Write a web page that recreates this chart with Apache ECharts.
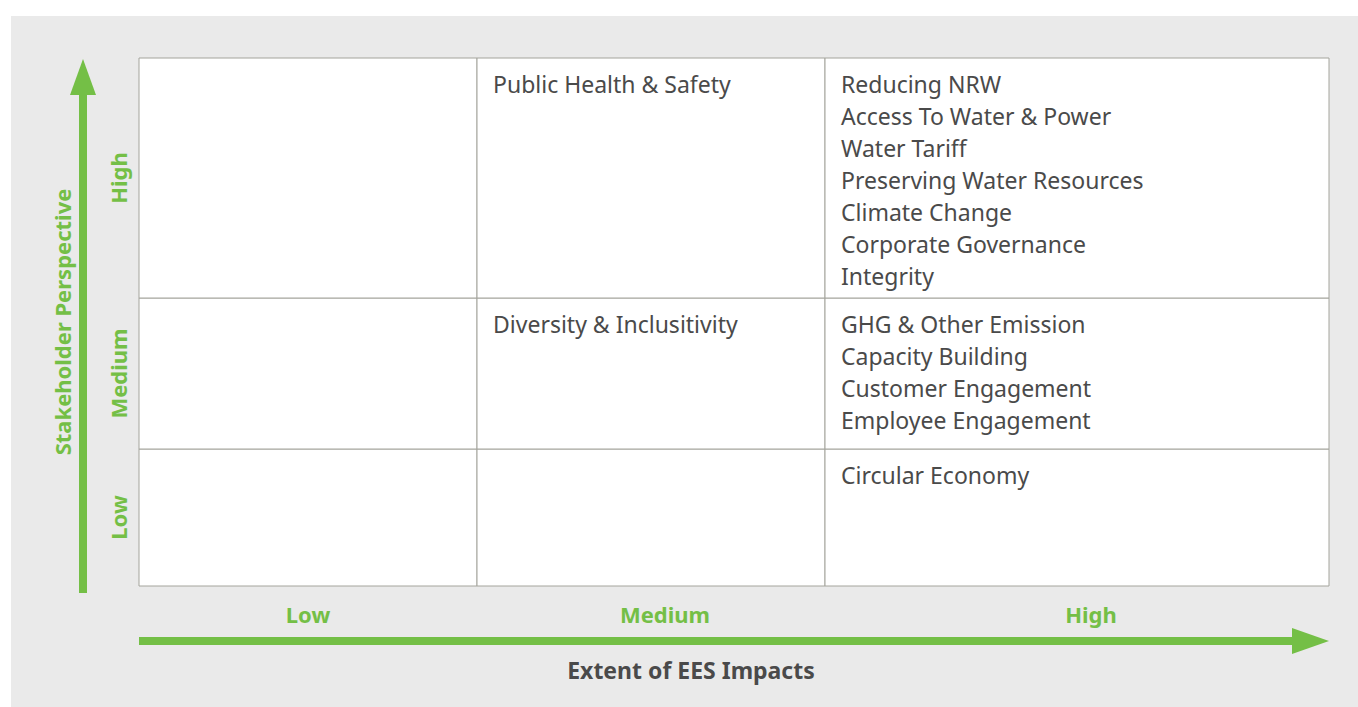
<!DOCTYPE html>
<html>
<head>
	<meta charset="utf-8">
	<title>Materiality Matrix</title>
	<script src="https://cdn.jsdelivr.net/npm/echarts@6/dist/echarts.min.js"></script>
</head>
<style type="text/css">
html, body {
	margin: 0;
	background: #ffffff;
}
#matrix {
	position: absolute;
	left: 11px;
	top: 16px;
	width: 1347px;
	height: 691px;
}
</style>
<body>
	<div id="matrix"></div>
</body>

<script type="text/javascript">
	// levels on both axes
	var xLevels = ['Low', 'Medium', 'High'];
	var yLevels = ['Low', 'Medium', 'High'];

	// topics in each cell (column = EES impact, row = stakeholder)
	var medHigh = ['Public Health & Safety'];
	var highHigh = ['Reducing NRW', 'Access To Water & Power', 'Water Tariff',
		'Preserving Water Resources', 'Climate Change', 'Corporate Governance', 'Integrity'];
	var medMed = ['Diversity & Inclusitivity'];
	var highMed = ['GHG & Other Emission', 'Capacity Building', 'Customer Engagement', 'Employee Engagement'];
	var highLow = ['Circular Economy'];

	// cell list: [column, row, topics]
	var cells = [
		[0, 0, []], [1, 0, []], [2, 0, highLow],
		[0, 1, []], [1, 1, medMed], [2, 1, highMed],
		[0, 2, []], [1, 2, medHigh], [2, 2, highHigh]
	];

	// layout: cell edges in axis units (columns and rows are not equal)
	var xEdges = [0, 338, 686, 1190];
	var yEdges = [0, 137, 288, 528];
	var xLabelAt = [169, 526, 952];
	var yLabelAt = [68.5, 212.5, 408];

	var green = '#74bf46';
	var ink = '#4a4a4a';
	var font = 'Noto Sans';

	var Chart = echarts.init(document.getElementById('matrix'), null, {renderer: 'svg'});

	var option = {
		backgroundColor: '#eaeaea',
		animation: false,
		grid: {
			left: 128,
			top: 42,
			width: 1190,
			height: 528
		},
		xAxis: {
			type: 'value',
			min: 0,
			max: xEdges[3],
			name: 'Extent of EES Impacts',
			nameLocation: 'middle',
			nameGap: 72,
			nameTextStyle: {color: ink, fontSize: 23, fontWeight: 'bold', fontFamily: font, padding: [0, 86, 0, 0]},
			axisLine: {show: false},
			axisTick: {show: false},
			splitLine: {show: false},
			axisLabel: {
				customValues: xLabelAt,
				margin: 17,
				color: green,
				fontSize: 22,
				fontWeight: 'bold',
				fontFamily: font,
				formatter: function (v) {
					return xLevels[xLabelAt.indexOf(v)];
				}
			}
		},
		yAxis: {
			type: 'value',
			min: 0,
			max: yEdges[3],
			name: 'Stakeholder Perspective',
			nameLocation: 'middle',
			nameRotate: 90,
			nameGap: 66,
			nameTextStyle: {color: green, fontSize: 22, fontWeight: 'bold', fontFamily: font},
			axisLine: {show: false},
			axisTick: {show: false},
			splitLine: {show: false},
			axisLabel: {
				customValues: yLabelAt,
				rotate: 90,
				margin: 10,
				color: green,
				fontSize: 22,
				fontWeight: 'bold',
				fontFamily: font,
				formatter: function (v) {
					return yLevels[yLabelAt.indexOf(v)];
				}
			}
		},
		graphic: [
			// vertical arrow
			{type: 'rect', shape: {x: 68, y: 78, width: 8, height: 499}, style: {fill: green}},
			{type: 'polygon', shape: {points: [[59, 79], [85, 79], [72, 43]]}, style: {fill: green}},
			// horizontal arrow
			{type: 'rect', shape: {x: 128, y: 621, width: 1154, height: 8}, style: {fill: green}},
			{type: 'polygon', shape: {points: [[1281, 612], [1281, 638], [1318, 625]]}, style: {fill: green}}
		],
		series: [
			{
				type: 'custom',
				data: cells.map(function (c) { return [c[0], c[1]]; }),
				renderItem: function (params, api) {
					var col = api.value(0);
					var row = api.value(1);
					var tl = api.coord([xEdges[col], yEdges[row + 1]]);
					var br = api.coord([xEdges[col + 1], yEdges[row]]);
					var lines = cells[params.dataIndex][2];
					return {
						type: 'group',
						children: [
							{
								type: 'rect',
								shape: {x: tl[0], y: tl[1], width: br[0] - tl[0], height: br[1] - tl[1]},
								style: {fill: '#ffffff', stroke: '#a4a49c', lineWidth: 1}
							},
							{
								type: 'text',
								style: {
									x: tl[0] + 16,
									y: tl[1] + 10,
									text: lines.join('\n'),
									fill: ink,
									fontSize: 23,
									fontFamily: font,
									lineHeight: 32,
									align: 'left',
									verticalAlign: 'top'
								}
							}
						]
					};
				}
			}
		]
	};

	Chart.setOption(option);
</script>
</html>
